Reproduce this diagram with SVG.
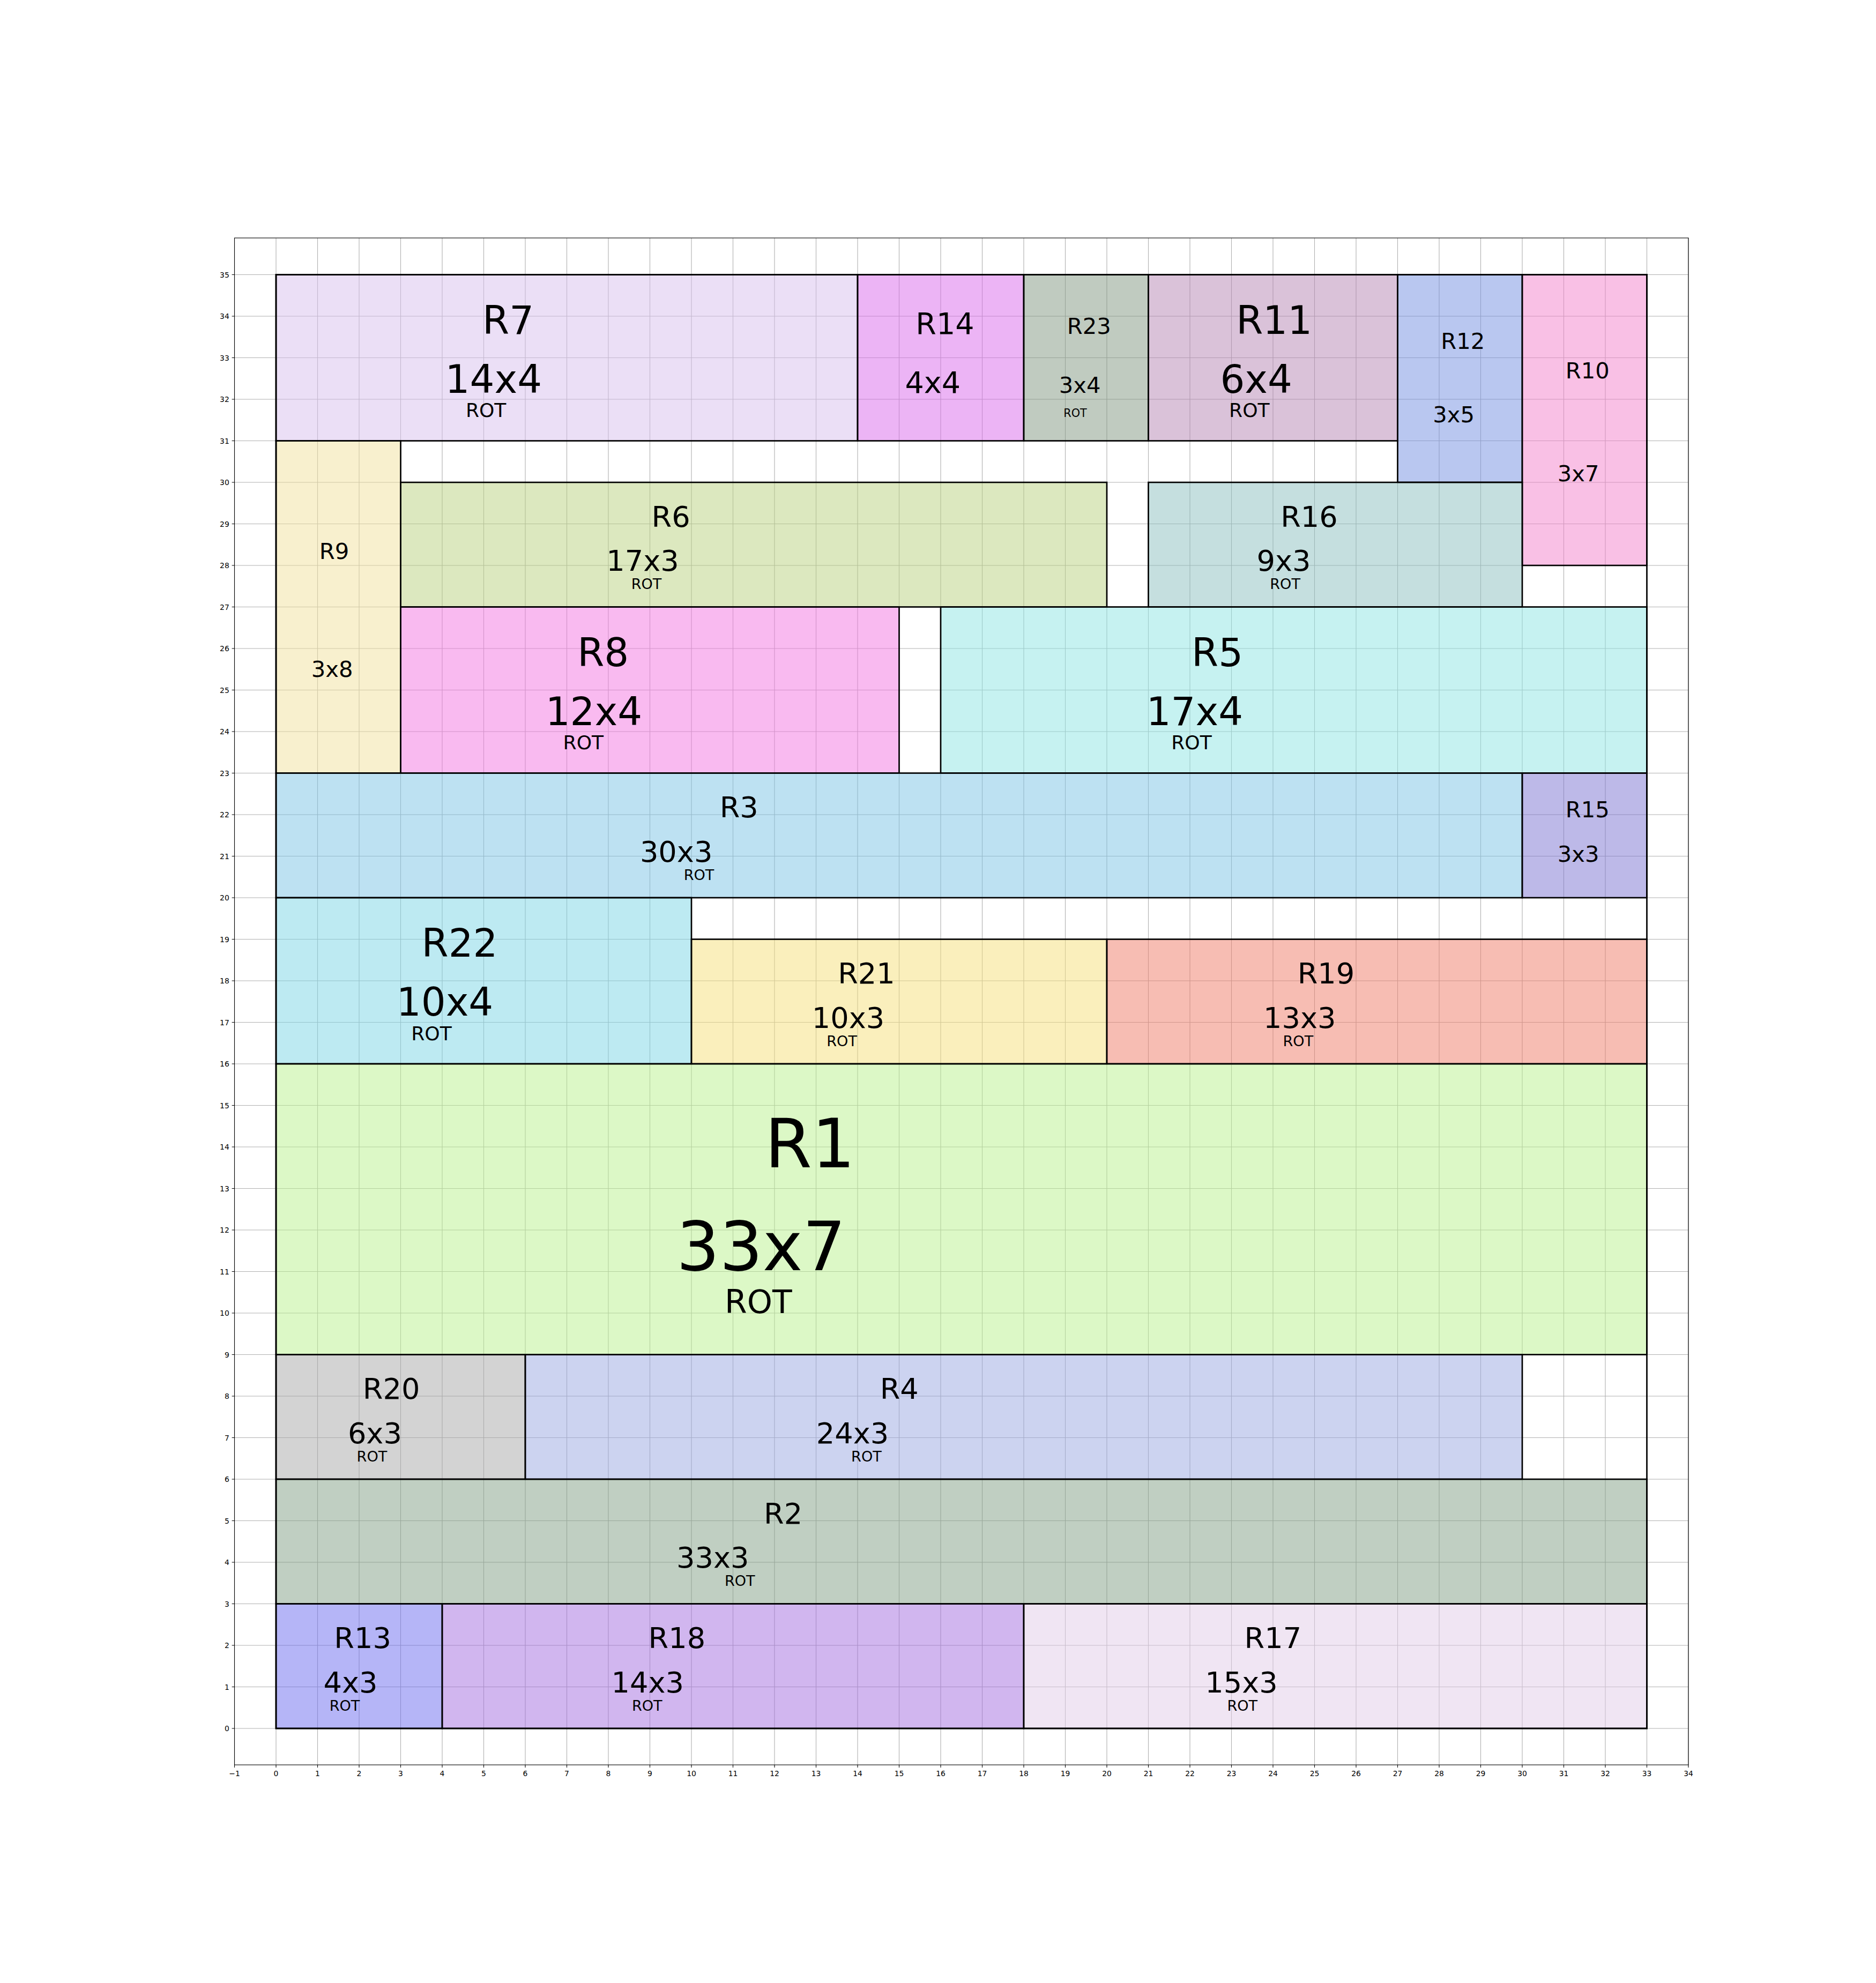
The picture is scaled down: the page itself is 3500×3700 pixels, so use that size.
<svg xmlns="http://www.w3.org/2000/svg" width="3500" height="3700" viewBox="0 0 3500 3700">
<style>
  text { font-family: "DejaVu Sans", "Liberation Sans", sans-serif; fill: #000; }
  .grid { stroke: #b0b0b0; stroke-width: 1.1; fill: none; }
  .tick { stroke: #000; stroke-width: 1.1; fill: none; }
  .spine { stroke: #000; stroke-width: 1.1; fill: none; }
  .box { stroke: #000; stroke-width: 2.7; fill-opacity: 0.5; }
  .frame { stroke: #000; stroke-width: 2.7; fill: none; }
  .xl { font-size: 13.9px; text-anchor: middle; }
  .yl { font-size: 13.9px; text-anchor: end; }
  .n72 { font-size: 72.2px; } .r72 { font-size: 36.1px; }
  .n54 { font-size: 54.2px; } .r54 { font-size: 27.1px; }
  .n56 { font-size: 55.6px; }
  .n42 { font-size: 41.7px; } .r42 { font-size: 20.8px; }
  .n126 { font-size: 126.4px; } .r126 { font-size: 60px; }
</style>
<rect width="3500" height="3700" fill="#ffffff"/>

<!-- grid: one unit = 77.5 px, x=0 at 515, y=0 at 3225 -->
<path class="grid" d="M437.5 444V3293M515 444V3293M592.5 444V3293M670 444V3293M747.5 444V3293M825 444V3293M902.5 444V3293M980 444V3293M1057.5 444V3293M1135 444V3293M1212.5 444V3293M1290 444V3293M1367.5 444V3293M1445 444V3293M1522.5 444V3293M1600 444V3293M1677.5 444V3293M1755 444V3293M1832.5 444V3293M1910 444V3293M1987.5 444V3293M2065 444V3293M2142.5 444V3293M2220 444V3293M2297.5 444V3293M2375 444V3293M2452.5 444V3293M2530 444V3293M2607.5 444V3293M2685 444V3293M2762.5 444V3293M2840 444V3293M2917.5 444V3293M2995 444V3293M3072.5 444V3293M3150 444V3293
M437.5 3225H3150M437.5 3147.5H3150M437.5 3070H3150M437.5 2992.5H3150M437.5 2915H3150M437.5 2837.5H3150M437.5 2760H3150M437.5 2682.5H3150M437.5 2605H3150M437.5 2527.5H3150M437.5 2450H3150M437.5 2372.5H3150M437.5 2295H3150M437.5 2217.5H3150M437.5 2140H3150M437.5 2062.5H3150M437.5 1985H3150M437.5 1907.5H3150M437.5 1830H3150M437.5 1752.5H3150M437.5 1675H3150M437.5 1597.5H3150M437.5 1520H3150M437.5 1442.5H3150M437.5 1365H3150M437.5 1287.5H3150M437.5 1210H3150M437.5 1132.5H3150M437.5 1055H3150M437.5 977.5H3150M437.5 900H3150M437.5 822.5H3150M437.5 745H3150M437.5 667.5H3150M437.5 590H3150M437.5 512.5H3150"/>

<!-- placed rectangles -->
<g id="R7">
  <rect class="box" x="515" y="512.5" width="1085" height="310" fill="#D7BFED"/>
  <text class="n72" x="900" y="622.9">R7</text>
  <text class="n72" x="830.6" y="732.6">14x4</text>
  <text class="r72" x="868.9" y="778.2">ROT</text>
</g>
<g id="R14">
  <rect class="box" x="1600" y="512.5" width="310" height="310" fill="#D969EB"/>
  <text class="n56" x="1708.3" y="622.9">R14</text>
  <text class="n56" x="1688.5" y="732.6">4x4</text>
</g>
<g id="R23">
  <rect class="box" x="1910" y="512.5" width="232.5" height="310" fill="#819781"/>
  <text class="n42" x="1990.7" y="622.9">R23</text>
  <text class="n42" x="1975.8" y="732.6">3x4</text>
  <text class="r42" x="1984.3" y="778.2">ROT</text>
</g>
<g id="R11">
  <rect class="box" x="2142.5" y="512.5" width="465" height="310" fill="#B585B3"/>
  <text class="n72" x="2306.2" y="622.9">R11</text>
  <text class="n72" x="2276.4" y="732.6">6x4</text>
  <text class="r72" x="2293.1" y="778.2">ROT</text>
</g>
<g id="R12">
  <rect class="box" x="2607.5" y="512.5" width="232.5" height="387.5" fill="#738FE1"/>
  <text class="n42" x="2688.2" y="650.5">R12</text>
  <text class="n42" x="2673.3" y="787.6">3x5</text>
</g>
<g id="R10">
  <rect class="box" x="2840" y="512.5" width="232.5" height="542.5" fill="#F381CB"/>
  <text class="n42" x="2920.7" y="705.6">R10</text>
  <text class="n42" x="2905.8" y="897.7">3x7</text>
</g>
<g id="R9">
  <rect class="box" x="515" y="822.5" width="232.5" height="620" fill="#F1E19D"/>
  <text class="n42" x="595.7" y="1043.2">R9</text>
  <text class="n42" x="580.8" y="1262.7">3x8</text>
</g>
<g id="R6">
  <rect class="box" x="747.5" y="900" width="1317.5" height="232.5" fill="#B9D17F"/>
  <text class="n54" x="1215.5" y="982.8">R6</text>
  <text class="n54" x="1131.2" y="1065.1">17x3</text>
  <text class="r54" x="1177.7" y="1099.3">ROT</text>
</g>
<g id="R16">
  <rect class="box" x="2142.5" y="900" width="697.5" height="232.5" fill="#8BBFBF"/>
  <text class="n54" x="2389.2" y="982.8">R16</text>
  <text class="n54" x="2344.5" y="1065.1">9x3</text>
  <text class="r54" x="2369.3" y="1099.3">ROT</text>
</g>
<g id="R8">
  <rect class="box" x="747.5" y="1132.5" width="930" height="310" fill="#F375E1"/>
  <text class="n72" x="1077.2" y="1242.9">R8</text>
  <text class="n72" x="1017.7" y="1352.6">12x4</text>
  <text class="r72" x="1050.6" y="1398.2">ROT</text>
</g>
<g id="R5">
  <rect class="box" x="1755" y="1132.5" width="1317.5" height="310" fill="#8DE5E3"/>
  <text class="n72" x="2223" y="1242.9">R5</text>
  <text class="n72" x="2138.7" y="1352.6">17x4</text>
  <text class="r72" x="2185.2" y="1398.2">ROT</text>
</g>
<g id="R3">
  <rect class="box" x="515" y="1442.5" width="2325" height="232.5" fill="#7BC3E5"/>
  <text class="n54" x="1342.7" y="1525.3">R3</text>
  <text class="n54" x="1193.9" y="1607.6">30x3</text>
  <text class="r54" x="1275.7" y="1641.8">ROT</text>
</g>
<g id="R15">
  <rect class="box" x="2840" y="1442.5" width="232.5" height="232.5" fill="#7B73D1"/>
  <text class="n42" x="2920.7" y="1525.3">R15</text>
  <text class="n42" x="2905.8" y="1607.6">3x3</text>
</g>
<g id="R22">
  <rect class="box" x="515" y="1675" width="775" height="310" fill="#7BD5E5"/>
  <text class="n72" x="786.5" y="1785.4">R22</text>
  <text class="n72" x="739.8" y="1895.1">10x4</text>
  <text class="r72" x="767.3" y="1940.7">ROT</text>
</g>
<g id="R21">
  <rect class="box" x="1290" y="1752.5" width="775" height="232.5" fill="#F5DF79"/>
  <text class="n54" x="1563.2" y="1835.3">R21</text>
  <text class="n54" x="1514.8" y="1917.6">10x3</text>
  <text class="r54" x="1542.3" y="1951.8">ROT</text>
</g>
<g id="R19">
  <rect class="box" x="2065" y="1752.5" width="1007.5" height="232.5" fill="#EF7B67"/>
  <text class="n54" x="2420.7" y="1835.3">R19</text>
  <text class="n54" x="2357" y="1917.6">13x3</text>
  <text class="r54" x="2393.5" y="1951.8">ROT</text>
</g>
<g id="R1">
  <rect class="box" x="515" y="1985" width="2557.5" height="542.5" fill="#B9F18D"/>
  <text class="n126" x="1427" y="2178.1">R1</text>
  <text class="n126" x="1262" y="2370.2">33x7</text>
  <text class="r126" x="1352" y="2449.9">ROT</text>
</g>
<g id="R20">
  <rect class="box" x="515" y="2527.5" width="465" height="232.5" fill="#A7A7A7"/>
  <text class="n54" x="676.8" y="2610.3">R20</text>
  <text class="n54" x="648.9" y="2692.6">6x3</text>
  <text class="r54" x="665.6" y="2726.8">ROT</text>
</g>
<g id="R4">
  <rect class="box" x="980" y="2527.5" width="1860" height="232.5" fill="#99A7E1"/>
  <text class="n54" x="1641.7" y="2610.3">R4</text>
  <text class="n54" x="1522.7" y="2692.6">24x3</text>
  <text class="r54" x="1588.1" y="2726.8">ROT</text>
</g>
<g id="R2">
  <rect class="box" x="515" y="2760" width="2557.5" height="232.5" fill="#819F85"/>
  <text class="n54" x="1425" y="2842.8">R2</text>
  <text class="n54" x="1262" y="2925.1">33x3</text>
  <text class="r54" x="1351.9" y="2959.3">ROT</text>
</g>
<g id="R13">
  <rect class="box" x="515" y="2992.5" width="310" height="232.5" fill="#6B6BEF"/>
  <text class="n54" x="623.3" y="3075.3">R13</text>
  <text class="n54" x="603.5" y="3157.6">4x3</text>
  <text class="r54" x="614.7" y="3191.8">ROT</text>
</g>
<g id="R18">
  <rect class="box" x="825" y="2992.5" width="1085" height="232.5" fill="#A36DDF"/>
  <text class="n54" x="1209.5" y="3075.3">R18</text>
  <text class="n54" x="1140.6" y="3157.6">14x3</text>
  <text class="r54" x="1178.9" y="3191.8">ROT</text>
</g>
<g id="R17">
  <rect class="box" x="1910" y="2992.5" width="1162.5" height="232.5" fill="#E1CBE7"/>
  <text class="n54" x="2321.5" y="3075.3">R17</text>
  <text class="n54" x="2248.3" y="3157.6">15x3</text>
  <text class="r54" x="2289.4" y="3191.8">ROT</text>
</g>

<!-- outer container 33 x 35 -->
<rect id="container" class="frame" x="515" y="512.5" width="2557.5" height="2712.5"/>

<!-- axes frame and ticks -->
<rect class="spine" x="437.5" y="444" width="2712.5" height="2849"/>
<path class="tick" d="M437.5 3293v4.9M515 3293v4.9M592.5 3293v4.9M670 3293v4.9M747.5 3293v4.9M825 3293v4.9M902.5 3293v4.9M980 3293v4.9M1057.5 3293v4.9M1135 3293v4.9M1212.5 3293v4.9M1290 3293v4.9M1367.5 3293v4.9M1445 3293v4.9M1522.5 3293v4.9M1600 3293v4.9M1677.5 3293v4.9M1755 3293v4.9M1832.5 3293v4.9M1910 3293v4.9M1987.5 3293v4.9M2065 3293v4.9M2142.5 3293v4.9M2220 3293v4.9M2297.5 3293v4.9M2375 3293v4.9M2452.5 3293v4.9M2530 3293v4.9M2607.5 3293v4.9M2685 3293v4.9M2762.5 3293v4.9M2840 3293v4.9M2917.5 3293v4.9M2995 3293v4.9M3072.5 3293v4.9M3150 3293v4.9
M437.5 3225h-4.9M437.5 3147.5h-4.9M437.5 3070h-4.9M437.5 2992.5h-4.9M437.5 2915h-4.9M437.5 2837.5h-4.9M437.5 2760h-4.9M437.5 2682.5h-4.9M437.5 2605h-4.9M437.5 2527.5h-4.9M437.5 2450h-4.9M437.5 2372.5h-4.9M437.5 2295h-4.9M437.5 2217.5h-4.9M437.5 2140h-4.9M437.5 2062.5h-4.9M437.5 1985h-4.9M437.5 1907.5h-4.9M437.5 1830h-4.9M437.5 1752.5h-4.9M437.5 1675h-4.9M437.5 1597.5h-4.9M437.5 1520h-4.9M437.5 1442.5h-4.9M437.5 1365h-4.9M437.5 1287.5h-4.9M437.5 1210h-4.9M437.5 1132.5h-4.9M437.5 1055h-4.9M437.5 977.5h-4.9M437.5 900h-4.9M437.5 822.5h-4.9M437.5 745h-4.9M437.5 667.5h-4.9M437.5 590h-4.9M437.5 512.5h-4.9"/>

<g id="x-tick-labels">
  <text class="xl" x="437.5" y="3314">−1</text>
  <text class="xl" x="515" y="3314">0</text>
  <text class="xl" x="592.5" y="3314">1</text>
  <text class="xl" x="670" y="3314">2</text>
  <text class="xl" x="747.5" y="3314">3</text>
  <text class="xl" x="825" y="3314">4</text>
  <text class="xl" x="902.5" y="3314">5</text>
  <text class="xl" x="980" y="3314">6</text>
  <text class="xl" x="1057.5" y="3314">7</text>
  <text class="xl" x="1135" y="3314">8</text>
  <text class="xl" x="1212.5" y="3314">9</text>
  <text class="xl" x="1290" y="3314">10</text>
  <text class="xl" x="1367.5" y="3314">11</text>
  <text class="xl" x="1445" y="3314">12</text>
  <text class="xl" x="1522.5" y="3314">13</text>
  <text class="xl" x="1600" y="3314">14</text>
  <text class="xl" x="1677.5" y="3314">15</text>
  <text class="xl" x="1755" y="3314">16</text>
  <text class="xl" x="1832.5" y="3314">17</text>
  <text class="xl" x="1910" y="3314">18</text>
  <text class="xl" x="1987.5" y="3314">19</text>
  <text class="xl" x="2065" y="3314">20</text>
  <text class="xl" x="2142.5" y="3314">21</text>
  <text class="xl" x="2220" y="3314">22</text>
  <text class="xl" x="2297.5" y="3314">23</text>
  <text class="xl" x="2375" y="3314">24</text>
  <text class="xl" x="2452.5" y="3314">25</text>
  <text class="xl" x="2530" y="3314">26</text>
  <text class="xl" x="2607.5" y="3314">27</text>
  <text class="xl" x="2685" y="3314">28</text>
  <text class="xl" x="2762.5" y="3314">29</text>
  <text class="xl" x="2840" y="3314">30</text>
  <text class="xl" x="2917.5" y="3314">31</text>
  <text class="xl" x="2995" y="3314">32</text>
  <text class="xl" x="3072.5" y="3314">33</text>
  <text class="xl" x="3150" y="3314">34</text>
</g>
<g id="y-tick-labels">
  <text class="yl" x="427.8" y="3230">0</text>
  <text class="yl" x="427.8" y="3152.5">1</text>
  <text class="yl" x="427.8" y="3075">2</text>
  <text class="yl" x="427.8" y="2997.5">3</text>
  <text class="yl" x="427.8" y="2920">4</text>
  <text class="yl" x="427.8" y="2842.5">5</text>
  <text class="yl" x="427.8" y="2765">6</text>
  <text class="yl" x="427.8" y="2687.5">7</text>
  <text class="yl" x="427.8" y="2610">8</text>
  <text class="yl" x="427.8" y="2532.5">9</text>
  <text class="yl" x="427.8" y="2455">10</text>
  <text class="yl" x="427.8" y="2377.5">11</text>
  <text class="yl" x="427.8" y="2300">12</text>
  <text class="yl" x="427.8" y="2222.5">13</text>
  <text class="yl" x="427.8" y="2145">14</text>
  <text class="yl" x="427.8" y="2067.5">15</text>
  <text class="yl" x="427.8" y="1990">16</text>
  <text class="yl" x="427.8" y="1912.5">17</text>
  <text class="yl" x="427.8" y="1835">18</text>
  <text class="yl" x="427.8" y="1757.5">19</text>
  <text class="yl" x="427.8" y="1680">20</text>
  <text class="yl" x="427.8" y="1602.5">21</text>
  <text class="yl" x="427.8" y="1525">22</text>
  <text class="yl" x="427.8" y="1447.5">23</text>
  <text class="yl" x="427.8" y="1370">24</text>
  <text class="yl" x="427.8" y="1292.5">25</text>
  <text class="yl" x="427.8" y="1215">26</text>
  <text class="yl" x="427.8" y="1137.5">27</text>
  <text class="yl" x="427.8" y="1060">28</text>
  <text class="yl" x="427.8" y="982.5">29</text>
  <text class="yl" x="427.8" y="905">30</text>
  <text class="yl" x="427.8" y="827.5">31</text>
  <text class="yl" x="427.8" y="750">32</text>
  <text class="yl" x="427.8" y="672.5">33</text>
  <text class="yl" x="427.8" y="595">34</text>
  <text class="yl" x="427.8" y="517.5">35</text>
</g>
</svg>
